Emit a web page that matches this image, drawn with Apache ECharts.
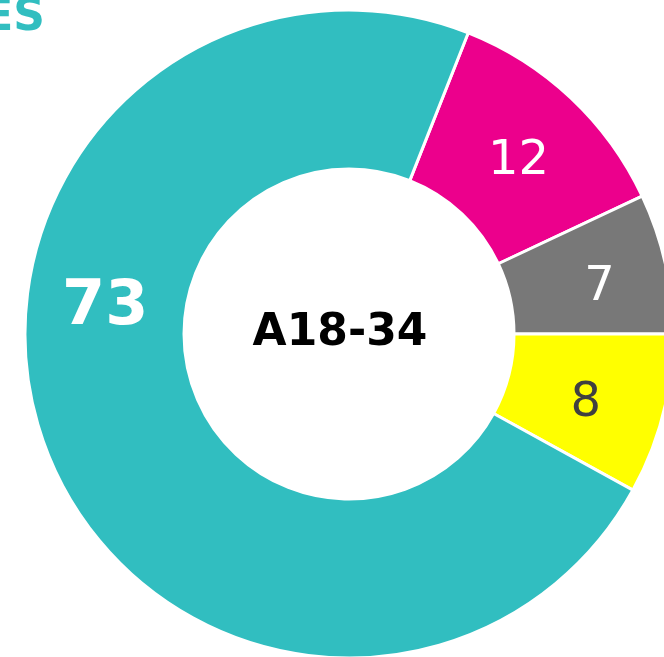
<!DOCTYPE html>
<html>
<head>
<meta charset="utf-8">
<script src="https://cdn.jsdelivr.net/npm/echarts@6/dist/echarts.min.js"></script>
<style>html,body{margin:0;padding:0;background:#fff;}#c{width:664px;height:657px;}</style>
</head>
<body>
<div id="c"></div>
<script>
const categories = ['Magenta', 'Gray', 'Yellow', 'Teal'];
const values = [12, 7, 8, 73];
const colors = ['#EC008C', '#787878', '#FFFF00', '#31BEC0'];
const centerLabel = 'A18-34';
const titleText = 'ES';

const FONT = 'DejaVu Sans';
const labelStyles = [
  { color: '#fff', fontSize: 48, fontWeight: 'normal', offset: [0, 8] },
  { color: '#fff', fontSize: 48, fontWeight: 'normal', offset: [9, 8] },
  { color: '#404040', fontSize: 48, fontWeight: 'normal', offset: [-3, 8] },
  { color: '#fff', fontSize: 62, fontWeight: 'bold', offset: [-11, -110] }
];

const chart = echarts.init(document.getElementById('c'), null, { renderer: 'canvas' });
chart.setOption({
  animation: false,
  backgroundColor: '#fff',
  graphic: [
    { type: 'text', style: { text: titleText, x: 45, y: 19, textAlign: 'right', textVerticalAlign: 'middle', font: 'bold 44px "DejaVu Sans"', fill: '#31BEC0' } },
    { type: 'text', style: { text: centerLabel, x: 340, y: 334, textAlign: 'center', textVerticalAlign: 'middle', font: 'bold 44px "DejaVu Sans"', fill: '#000' } }
  ],
  series: [{
    type: 'pie',
    center: [349, 334],
    radius: [165, 324],
    startAngle: 68.4,
    clockwise: true,
    avoidLabelOverlap: false,
    itemStyle: { borderColor: '#fff', borderWidth: 3 },
    label: { show: true, position: 'inside', fontFamily: FONT, formatter: '{c}' },
    labelLine: { show: false },
    emphasis: { disabled: true },
    data: categories.map((n, i) => ({
      name: n,
      value: values[i],
      itemStyle: { color: colors[i] },
      label: Object.assign({ fontFamily: FONT }, labelStyles[i])
    }))
  }]
});
</script>
</body>
</html>
